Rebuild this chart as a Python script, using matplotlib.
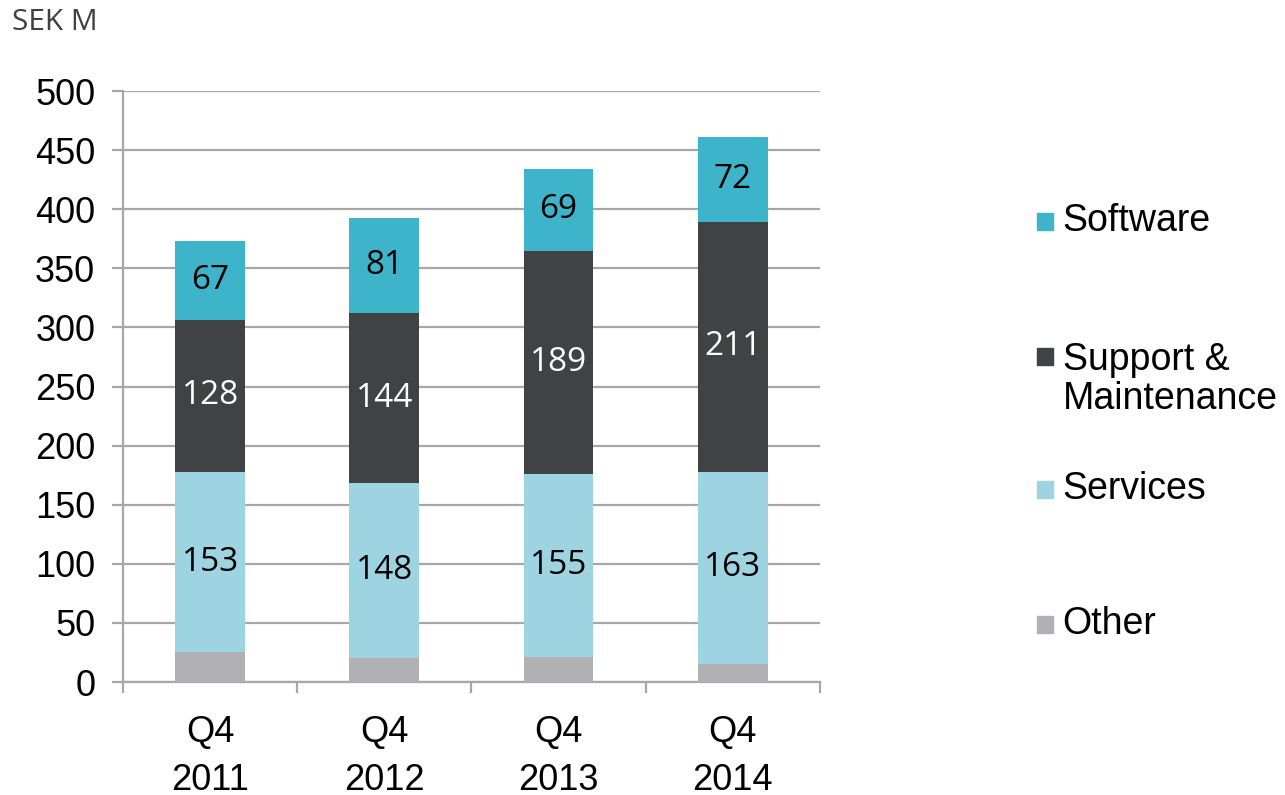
# SEK M revenue by segment, Q4 2011-2014

import matplotlib
matplotlib.use("Agg")
import matplotlib.pyplot as plt
from matplotlib.patches import Rectangle
import numpy as np

# data
quarters = ["Q4\n2011", "Q4\n2012", "Q4\n2013", "Q4\n2014"]
other = [25, 20, 21, 15]
services = [153, 148, 155, 163]
support = [128, 144, 189, 211]
software = [67, 81, 69, 72]

# colours
C_OTHER = "#B1B1B3"
C_SERVICES = "#9ED4E1"
C_SUPPORT = "#404244"
C_SOFTWARE = "#3DB4CA"
GRID = "#A7A7A7"

TICK_FONT = "Liberation Sans"
NUM_FONT = "Open Sans"

fig = plt.figure(figsize=(12.85, 7.95), dpi=100)
ax = fig.add_axes([0.0957, 0.1421, 0.5424, 0.7434])

x = np.arange(len(quarters))
w = 0.4

b_other = ax.bar(x, other, w, color=C_OTHER, zorder=3)
bottom = np.array(other, dtype=float)
b_serv = ax.bar(x, services, w, bottom=bottom, color=C_SERVICES, zorder=3)
bottom += services
b_supp = ax.bar(x, support, w, bottom=bottom, color=C_SUPPORT, zorder=3)
bottom += support
b_soft = ax.bar(x, software, w, bottom=bottom, color=C_SOFTWARE, zorder=3)

for bars, vals, col in [(b_serv, services, "black"),
                        (b_supp, support, "white"),
                        (b_soft, software, "black")]:
    ax.bar_label(bars, labels=[str(v) for v in vals], label_type="center",
                 color=col, fontsize=24, family=NUM_FONT)

# axes styling
ax.set_ylim(0, 500)
ax.set_xlim(-0.5, 3.5)
ax.set_yticks(np.arange(0, 501, 50))
ax.yaxis.grid(True, color=GRID, linewidth=1.6, zorder=0)
ax.set_axisbelow(True)
for s in ["top", "right"]:
    ax.spines[s].set_visible(False)
ax.spines["left"].set_color(GRID)
ax.spines["left"].set_linewidth(1.6)
ax.spines["bottom"].set_color(GRID)
ax.spines["bottom"].set_linewidth(1.6)

ax.set_xticks(x)
ax.set_xticklabels(quarters, fontsize=26, family=TICK_FONT, linespacing=1.45)
ax.set_xticks(np.arange(-0.5, 4.0, 1.0), minor=True)
ax.tick_params(axis="x", which="major", length=0, pad=24)
ax.tick_params(axis="x", which="minor", length=8, width=1.6, color=GRID)
ax.tick_params(axis="y", length=8, width=1.6, color=GRID, pad=12,
               labelsize=26)
for lab in ax.get_yticklabels():
    lab.set_family(TICK_FONT)

# unit label
fig.text(0.009, 0.972, "SEK M", fontsize=21.5, family=NUM_FONT,
         color="#404040", va="center", ha="left")

# legend (placed by hand, spacing as in the original)
legend_items = [
    ("Software", C_SOFTWARE, 0.722),
    ("Support &\nMaintenance", C_SUPPORT, 0.523),
    ("Services", C_SERVICES, 0.385),
    ("Other", C_OTHER, 0.215),
]
for label, col, yc in legend_items:
    first_line_y = yc + (0.029 if "\n" in label else 0)
    fig.patches.append(Rectangle((0.807, first_line_y - 0.011), 0.0125, 0.021,
                                 color=col, transform=fig.transFigure))
    fig.text(0.827, yc, label, fontsize=27, family=TICK_FONT, va="center",
             ha="left", linespacing=1.1)

fig.savefig("out.png", dpi=100)
